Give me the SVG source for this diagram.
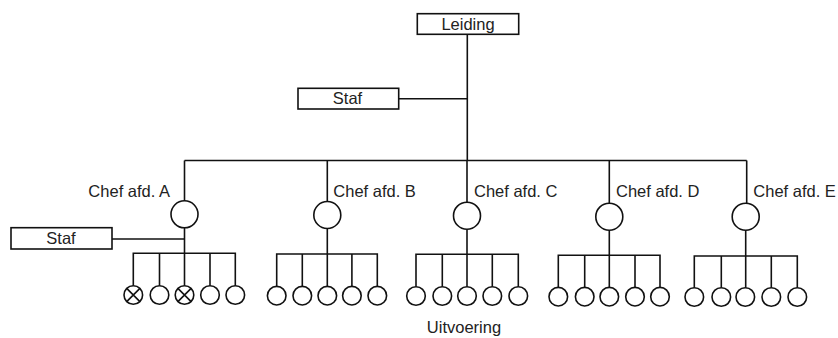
<svg xmlns="http://www.w3.org/2000/svg" width="838" height="338" viewBox="0 0 838 338">
  <style>
    .box { fill: #fff; stroke: #111; stroke-width: 1.6; }
    .ln { fill: none; stroke: #111; stroke-width: 1.6; }
    .chef { fill: #fff; stroke: #111; stroke-width: 1.6; }
    .unit { fill: #fff; stroke: #111; stroke-width: 1.6; }
    text { font-family: "Liberation Sans", Arial, sans-serif; font-size: 16.5px; fill: #222; }
  </style>
  <rect width="838" height="338" fill="#fff"/>

  <!-- connectors -->
  <g id="connectors" class="ln">
    <!-- top of the hierarchy -->
    <line x1="467.3" y1="34.3" x2="467.3" y2="160.5"/>
    <line x1="398.7" y1="98.7" x2="467.3" y2="98.7"/>
    <line x1="184.5" y1="160.5" x2="746.7" y2="160.5"/>
    <!-- department A -->
    <line x1="184.5" y1="160.5" x2="184.5" y2="200.8"/>
    <line x1="184.5" y1="227.8" x2="184.5" y2="285.7"/>
    <line x1="112" y1="239" x2="184.5" y2="239"/>
    <polyline points="133.3,285.7 133.3,253.3 235.3,253.3 235.3,285.7"/>
    <line x1="159.5" y1="253.3" x2="159.5" y2="285.7"/>
    <line x1="210" y1="253.3" x2="210" y2="285.7"/>
    <!-- department B -->
    <line x1="327.3" y1="160.5" x2="327.3" y2="201.5"/>
    <line x1="327.3" y1="228.5" x2="327.3" y2="286.4"/>
    <polyline points="276.7,286.4 276.7,254 377.3,254 377.3,286.4"/>
    <line x1="302.3" y1="254" x2="302.3" y2="286.4"/>
    <line x1="351.9" y1="254" x2="351.9" y2="286.4"/>
    <!-- department C -->
    <line x1="467" y1="160.5" x2="467" y2="202.2"/>
    <line x1="467" y1="229.2" x2="467" y2="286.7"/>
    <polyline points="416,286.7 416,254.3 518.3,254.3 518.3,286.7"/>
    <line x1="442.3" y1="254.3" x2="442.3" y2="286.7"/>
    <line x1="492.3" y1="254.3" x2="492.3" y2="286.7"/>
    <!-- department D -->
    <line x1="609.3" y1="160.5" x2="609.3" y2="203.2"/>
    <line x1="609.3" y1="230.2" x2="609.3" y2="287.4"/>
    <polyline points="558.3,287.4 558.3,255.3 660,255.3 660,287.4"/>
    <line x1="584.7" y1="255.3" x2="584.7" y2="287.4"/>
    <line x1="635" y1="255.3" x2="635" y2="287.4"/>
    <!-- department E -->
    <line x1="746.7" y1="160.5" x2="746.7" y2="203.2"/>
    <line x1="745.7" y1="230.2" x2="745.7" y2="287.7"/>
    <polyline points="694.3,287.7 694.3,256 797.3,256 797.3,287.7"/>
    <line x1="721.3" y1="256" x2="721.3" y2="287.7"/>
    <line x1="771.3" y1="256" x2="771.3" y2="287.7"/>
  </g>

  <!-- management and staff -->
  <g id="leiding">
    <rect class="box" x="417.3" y="13.7" width="101.4" height="20.6"/>
    <text x="468" y="29.5" text-anchor="middle">Leiding</text>
  </g>
  <g id="staf-top">
    <rect class="box" x="298" y="88.3" width="100.7" height="20.7"/>
    <text x="347.5" y="104" text-anchor="middle">Staf</text>
  </g>
  <g id="staf-a">
    <rect class="box" x="11" y="227.7" width="101" height="21.3"/>
    <text x="61" y="244.3" text-anchor="middle">Staf</text>
  </g>

  <!-- department heads -->
  <g id="chef-a">
    <circle class="chef" cx="184.5" cy="214.3" r="13.5"/>
    <text x="170" y="197" text-anchor="end">Chef afd. A</text>
  </g>
  <g id="chef-b">
    <circle class="chef" cx="327.3" cy="215" r="13.5"/>
    <text x="333.3" y="197">Chef afd. B</text>
  </g>
  <g id="chef-c">
    <circle class="chef" cx="467" cy="215.7" r="13.5"/>
    <text x="474" y="197">Chef afd. C</text>
  </g>
  <g id="chef-d">
    <circle class="chef" cx="609.3" cy="216.7" r="13.5"/>
    <text x="616" y="197">Chef afd. D</text>
  </g>
  <g id="chef-e">
    <circle class="chef" cx="745.7" cy="216.7" r="13.5"/>
    <text x="753.3" y="197">Chef afd. E</text>
  </g>

  <!-- executive units -->
  <g id="units-a">
    <circle class="unit" cx="133.3" cy="295" r="9.3"/>
    <path class="ln" d="M126.7,288.4 L139.9,301.6 M139.9,288.4 L126.7,301.6"/>
    <circle class="unit" cx="159.5" cy="295" r="9.3"/>
    <circle class="unit" cx="184.5" cy="295" r="9.3"/>
    <path class="ln" d="M177.9,288.4 L191.1,301.6 M191.1,288.4 L177.9,301.6"/>
    <circle class="unit" cx="210" cy="295" r="9.3"/>
    <circle class="unit" cx="235.3" cy="295" r="9.3"/>
  </g>
  <g id="units-b">
    <circle class="unit" cx="276.7" cy="295.7" r="9.3"/>
    <circle class="unit" cx="302.3" cy="295.7" r="9.3"/>
    <circle class="unit" cx="327.3" cy="295.7" r="9.3"/>
    <circle class="unit" cx="351.9" cy="295.7" r="9.3"/>
    <circle class="unit" cx="377.3" cy="295.7" r="9.3"/>
  </g>
  <g id="units-c">
    <circle class="unit" cx="416" cy="296" r="9.3"/>
    <circle class="unit" cx="442.3" cy="296" r="9.3"/>
    <circle class="unit" cx="467" cy="296" r="9.3"/>
    <circle class="unit" cx="492.3" cy="296" r="9.3"/>
    <circle class="unit" cx="518.3" cy="296" r="9.3"/>
  </g>
  <g id="units-d">
    <circle class="unit" cx="558.3" cy="296.7" r="9.3"/>
    <circle class="unit" cx="584.7" cy="296.7" r="9.3"/>
    <circle class="unit" cx="609.3" cy="296.7" r="9.3"/>
    <circle class="unit" cx="635" cy="296.7" r="9.3"/>
    <circle class="unit" cx="660" cy="296.7" r="9.3"/>
  </g>
  <g id="units-e">
    <circle class="unit" cx="694.3" cy="297" r="9.3"/>
    <circle class="unit" cx="721.3" cy="297" r="9.3"/>
    <circle class="unit" cx="745.3" cy="297" r="9.3"/>
    <circle class="unit" cx="771.3" cy="297" r="9.3"/>
    <circle class="unit" cx="797.3" cy="297" r="9.3"/>
  </g>

  <g id="uitvoering">
    <text x="464" y="333.3" text-anchor="middle">Uitvoering</text>
  </g>
</svg>
